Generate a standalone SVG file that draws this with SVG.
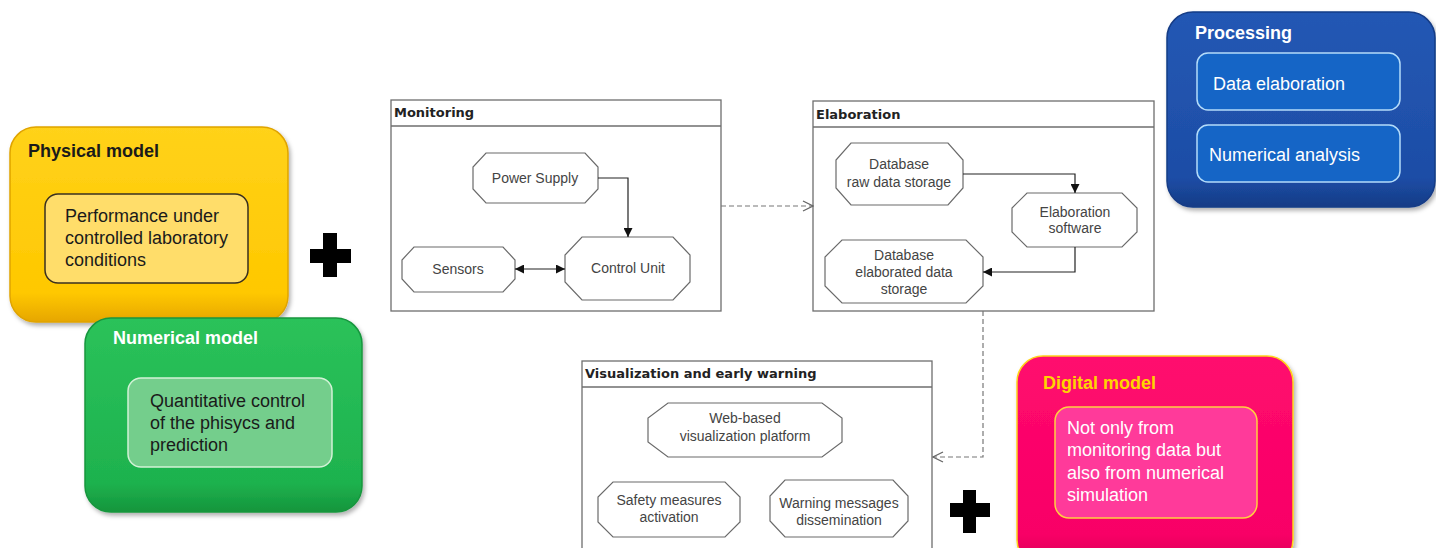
<svg xmlns="http://www.w3.org/2000/svg" width="1436" height="548" viewBox="0 0 1436 548">
<style>
.t{font-family:"Liberation Sans",Arial,sans-serif}
.big{font-size:18px}
.ttl{font-size:18px;font-weight:bold}
.frame{fill:#fff;stroke:#6e6e6e;stroke-width:1.3}
.hdr{font-family:"DejaVu Sans",Verdana,sans-serif;font-size:13px;font-weight:bold;fill:#222}
.oct{fill:#fff;stroke:#6a6a6a;stroke-width:1.2}
.ot{font-family:"Liberation Sans",Arial,sans-serif;font-size:14px;fill:#444;text-anchor:middle}
.solid{fill:none;stroke:#222;stroke-width:1.2}
.dash{fill:none;stroke:#777;stroke-width:1.2;stroke-dasharray:5,3}
.plus{fill:#000}
</style>
<defs>
<linearGradient id="gY" x1="0" y1="0" x2="0" y2="1"><stop offset="0" stop-color="#FFD21A"/><stop offset="0.85" stop-color="#FFC800"/><stop offset="1" stop-color="#E6A600"/></linearGradient>
<linearGradient id="gG" x1="0" y1="0" x2="0" y2="1"><stop offset="0" stop-color="#2BC25A"/><stop offset="0.85" stop-color="#1EB24E"/><stop offset="1" stop-color="#15953C"/></linearGradient>
<linearGradient id="gB" x1="0" y1="0" x2="0" y2="1"><stop offset="0" stop-color="#2458B4"/><stop offset="0.85" stop-color="#1D4DA6"/><stop offset="1" stop-color="#153C86"/></linearGradient>
<linearGradient id="gP" x1="0" y1="0" x2="0" y2="1"><stop offset="0" stop-color="#FF0A6E"/><stop offset="0.85" stop-color="#F80066"/><stop offset="1" stop-color="#D80058"/></linearGradient>
<filter id="sh" x="-10%" y="-10%" width="125%" height="125%"><feDropShadow dx="2" dy="3" stdDeviation="2" flood-color="#000" flood-opacity="0.3"/></filter>
<marker id="aS" viewBox="0 0 10 10" refX="10" refY="5" markerWidth="9" markerHeight="9" markerUnits="userSpaceOnUse" orient="auto-start-reverse"><path d="M0,0 L10,5 L0,10 z" fill="#111"/></marker>
<marker id="aO" viewBox="0 0 12 12" refX="11" refY="6" markerWidth="12" markerHeight="12" markerUnits="userSpaceOnUse" orient="auto"><path d="M1,1 L11,6 L1,11" fill="none" stroke="#666" stroke-width="1.3"/></marker>
</defs>
<rect width="1436" height="548" fill="#fff"/>

<g id="physical-model">
<rect x="10" y="127" width="278" height="195" rx="26" fill="url(#gY)" stroke="#E0A400" stroke-width="1.5" filter="url(#sh)"/>
<text class="t ttl" x="28" y="157" fill="#1a1a1a">Physical model</text>
<rect x="45" y="194" width="203" height="89" rx="13" fill="#FFDD6A" stroke="#3a3020" stroke-width="1.5"/>
<text class="t big" fill="#1a1a1a"><tspan x="65" y="222">Performance under</tspan><tspan x="65" y="244">controlled laboratory</tspan><tspan x="65" y="266">conditions</tspan></text>
</g>

<g id="numerical-model">
<rect x="85" y="318" width="277" height="194" rx="26" fill="url(#gG)" stroke="#17963E" stroke-width="1.5" filter="url(#sh)"/>
<text class="t ttl" x="113" y="344" fill="#fff">Numerical model</text>
<rect x="128" y="378" width="204" height="89" rx="13" fill="#74CE8C" stroke="#D2F2D6" stroke-width="1.5"/>
<text class="t big" fill="#1a1a1a"><tspan x="150" y="407">Quantitative control</tspan><tspan x="150" y="429">of the phisycs and</tspan><tspan x="150" y="451">prediction</tspan></text>
</g>

<g id="plus-1">
<rect class="plus" x="323" y="233" width="14" height="44"/>
<rect class="plus" x="310" y="249" width="41" height="14"/>
</g>

<g id="monitoring">
<rect class="frame" x="391" y="100" width="330" height="211"/>
<line x1="391" y1="126" x2="721" y2="126" stroke="#6e6e6e" stroke-width="1.3"/>
<text class="hdr" x="394" y="117">Monitoring</text>
</g>
<g id="power-supply">
<polygon class="oct" points="486,153 585,153 598,167 598,189 585,203 486,203 473,189 473,167"/>
<text class="ot" x="535" y="183">Power Supply</text>
</g>
<g id="sensors">
<polygon class="oct" points="414,247 503,247 515,260 515,279 503,292 414,292 402,279 402,260"/>
<text class="ot" x="458" y="274">Sensors</text>
</g>
<g id="control-unit">
<polygon class="oct" points="582,237 673,237 690,255 690,282 673,300 582,300 565,282 565,255"/>
<text class="ot" x="628" y="273">Control Unit</text>
</g>

<g id="elaboration">
<rect class="frame" x="813" y="101" width="341" height="210"/>
<line x1="813" y1="127" x2="1154" y2="127" stroke="#6e6e6e" stroke-width="1.3"/>
<text class="hdr" x="816" y="119">Elaboration</text>
</g>
<g id="db-raw">
<polygon class="oct" points="851,143 948,143 963,160 963,188 948,205 851,205 836,188 836,160"/>
<text class="ot"><tspan x="899" y="169">Database</tspan><tspan x="899" y="187">raw data storage</tspan></text>
</g>
<g id="elab-software">
<polygon class="oct" points="1027,193 1122,193 1137,208 1137,232 1122,247 1027,247 1012,232 1012,208"/>
<text class="ot"><tspan x="1075" y="217">Elaboration</tspan><tspan x="1075" y="233">software</tspan></text>
</g>
<g id="db-elaborated">
<polygon class="oct" points="842,240 966,240 983,257 983,286 966,303 842,303 825,286 825,257"/>
<text class="ot"><tspan x="904" y="260">Database</tspan><tspan x="904" y="277">elaborated data</tspan><tspan x="904" y="294">storage</tspan></text>
</g>

<g id="processing">
<rect x="1167" y="12" width="268" height="195" rx="26" fill="url(#gB)" stroke="#153C86" stroke-width="1.5" filter="url(#sh)"/>
<text class="t ttl" x="1195" y="39" fill="#fff">Processing</text>
<rect x="1197" y="53" width="203" height="57" rx="11" fill="#1565C6" stroke="#B4DCFA" stroke-width="1.5"/>
<text class="t big" x="1213" y="90" fill="#fff">Data elaboration</text>
<rect x="1197" y="125" width="203" height="57" rx="11" fill="#1565C6" stroke="#B4DCFA" stroke-width="1.5"/>
<text class="t big" x="1209" y="161" fill="#fff">Numerical analysis</text>
</g>

<g id="visualization">
<rect class="frame" x="582" y="361" width="350" height="200"/>
<line x1="582" y1="387" x2="932" y2="387" stroke="#6e6e6e" stroke-width="1.3"/>
<text class="hdr" x="585" y="378">Visualization and early warning</text>
</g>
<g id="web-platform">
<polygon class="oct" points="668,403 822,403 842,418 842,442 822,457 668,457 648,442 648,418"/>
<text class="ot"><tspan x="745" y="423">Web-based</tspan><tspan x="745" y="441">visualization platform</tspan></text>
</g>
<g id="safety">
<polygon class="oct" points="613,482 725,482 740,497 740,522 725,537 613,537 598,522 598,497"/>
<text class="ot"><tspan x="669" y="505">Safety measures</tspan><tspan x="669" y="522">activation</tspan></text>
</g>
<g id="warning">
<polygon class="oct" points="785,480 893,480 908,496 908,521 893,537 785,537 770,521 770,496"/>
<text class="ot"><tspan x="839" y="508">Warning messages</tspan><tspan x="839" y="525">dissemination</tspan></text>
</g>

<g id="plus-2">
<rect class="plus" x="963" y="490" width="13" height="43"/>
<rect class="plus" x="950" y="503" width="40" height="14"/>
</g>

<g id="digital-model">
<rect x="1017" y="356" width="276" height="210" rx="26" fill="url(#gP)" stroke="#FFD21A" stroke-width="1.5" filter="url(#sh)"/>
<text class="t ttl" x="1043" y="389" fill="#FFD400">Digital model</text>
<rect x="1055" y="407" width="202" height="111" rx="14" fill="#FF3A9A" stroke="#FFD040" stroke-width="1.5"/>
<text class="t big" fill="#fff"><tspan x="1067" y="434">Not only from</tspan><tspan x="1067" y="456">monitoring data but</tspan><tspan x="1067" y="479">also from numerical</tspan><tspan x="1067" y="501">simulation</tspan></text>
</g>

<g id="connectors">
<path class="solid" d="M598,178 H628 V237" marker-end="url(#aS)"/>
<path class="solid" d="M515,269 H565" marker-start="url(#aS)" marker-end="url(#aS)"/>
<path class="solid" d="M963,174 H1075 V193" marker-end="url(#aS)"/>
<path class="solid" d="M1075,247 V272 H983" marker-end="url(#aS)"/>
<path class="dash" d="M721,206 H813" marker-end="url(#aO)"/>
<path class="dash" d="M983,311 V457 H933" marker-end="url(#aO)"/>
</g>
</svg>
